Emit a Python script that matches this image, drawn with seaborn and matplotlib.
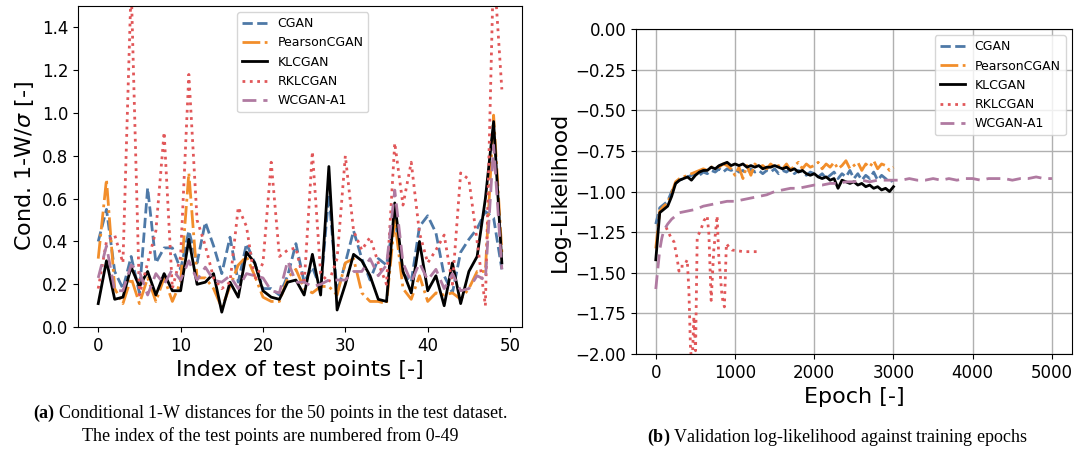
import numpy as np
import pandas as pd
import matplotlib
matplotlib.use("Agg")
import matplotlib.pyplot as plt
import seaborn as sns

# ---------------- data: left panel (conditional 1-W / sigma) ----------------
idx = list(range(50))
cgan_w = [0.40,0.55,0.26,0.18,0.33,0.16,0.65,0.30,0.37,0.37,0.27,0.45,0.30,0.49,0.38,0.25,0.42,0.21,0.39,0.30,
          0.18,0.18,0.15,0.24,0.39,0.21,0.28,0.18,0.62,0.16,0.30,0.45,0.32,0.22,0.32,0.29,0.52,0.25,0.21,0.47,
          0.52,0.44,0.24,0.16,0.35,0.41,0.46,0.54,0.51,0.27]
pearson_w = [0.32,0.69,0.18,0.11,0.23,0.11,0.23,0.12,0.23,0.12,0.21,0.72,0.23,0.23,0.18,0.09,0.19,0.29,0.33,0.24,
             0.14,0.12,0.12,0.23,0.27,0.18,0.16,0.19,0.19,0.15,0.30,0.32,0.16,0.12,0.12,0.11,0.50,0.18,0.13,0.24,
             0.12,0.16,0.15,0.16,0.13,0.18,0.26,0.26,0.99,0.35]
kl_w = [0.11,0.31,0.13,0.14,0.28,0.19,0.26,0.15,0.25,0.17,0.17,0.41,0.20,0.21,0.25,0.07,0.21,0.14,0.35,0.30,
        0.17,0.14,0.13,0.21,0.22,0.15,0.34,0.15,0.75,0.08,0.20,0.34,0.31,0.24,0.13,0.12,0.58,0.26,0.16,0.40,
        0.17,0.24,0.10,0.30,0.11,0.26,0.33,0.60,0.96,0.30]
rkl_w = [0.18,0.40,0.43,0.30,1.60,0.15,0.30,0.45,0.91,0.18,0.33,1.18,0.50,0.38,0.23,0.18,0.21,0.56,0.47,0.22,
         0.30,0.77,0.33,0.36,0.37,0.20,0.82,0.25,0.21,0.32,0.80,0.45,0.36,0.42,0.30,0.20,0.86,0.57,0.77,0.44,
         0.30,0.36,0.43,0.20,0.72,0.69,0.40,0.10,1.70,1.11]
wcgan_w = [0.23,0.38,0.17,0.17,0.29,0.26,0.15,0.25,0.20,0.27,0.22,0.31,0.22,0.28,0.22,0.21,0.24,0.18,0.25,0.24,
           0.23,0.17,0.16,0.31,0.21,0.21,0.19,0.20,0.22,0.22,0.22,0.26,0.26,0.32,0.24,0.29,0.64,0.30,0.21,0.30,
           0.22,0.27,0.18,0.25,0.17,0.18,0.24,0.22,0.85,0.27]

# ---------------- data: right panel (validation log-likelihood) ----------------
ep = list(range(0, 3001, 50))
cgan_ll = [-1.20,-1.10,-1.08,-1.06,-1.00,-0.95,-0.93,-0.92,-0.91,-0.90,-0.89,-0.90,-0.88,-0.89,-0.87,-0.88,
           -0.86,-0.88,-0.86,-0.87,-0.86,-0.88,-0.87,-0.89,-0.86,-0.88,-0.87,-0.89,-0.87,-0.88,-0.86,-0.89,
           -0.87,-0.88,-0.86,-0.89,-0.87,-0.88,-0.90,-0.88,-0.89,-0.91,-0.89,-0.92,-0.90,-0.88,-0.92,-0.89,
           -0.91,-0.87,-0.92,-0.89,-0.93,-0.90,-0.92,-0.88,-0.93,-0.90,-0.92,-0.94,-0.93]
pearson_ll = [-1.35,-1.12,-1.09,-1.07,-1.01,-0.94,-0.92,-0.91,-0.90,-0.89,-0.88,-0.87,-0.86,-0.87,-0.85,-0.84,
              -0.85,-0.83,-0.84,-0.86,-0.90,-0.85,-0.92,-0.84,-0.90,-0.83,-0.85,-0.84,-0.86,-0.83,-0.85,-0.84,
              -0.86,-0.83,-0.87,-0.84,-0.82,-0.86,-0.83,-0.85,-0.84,-0.82,-0.86,-0.83,-0.85,-0.82,-0.86,-0.84,
              -0.81,-0.86,-0.84,-0.82,-0.87,-0.83,-0.85,-0.81,-0.86,-0.83,-0.84,-0.87,-0.85]
kl_ll = [-1.42,-1.13,-1.11,-1.09,-1.03,-0.95,-0.93,-0.92,-0.91,-0.93,-0.90,-0.88,-0.87,-0.87,-0.85,-0.86,
         -0.84,-0.83,-0.82,-0.84,-0.83,-0.84,-0.83,-0.85,-0.84,-0.85,-0.84,-0.86,-0.85,-0.85,-0.84,-0.85,
         -0.86,-0.85,-0.87,-0.86,-0.88,-0.87,-0.89,-0.90,-0.89,-0.91,-0.92,-0.91,-0.93,-0.92,-0.98,-0.93,
         -0.94,-0.95,-0.94,-0.96,-0.95,-0.97,-0.96,-0.98,-0.97,-0.99,-0.98,-1.00,-0.97]
rkl_ep = [130,188,230,272,293,314,356,397,418,439,460,481,502,523,565,607,649,670,699,732,774,795,837,866,891,920,962,1109,1276]
rkl_ll = [-1.22,-1.28,-1.31,-1.42,-1.49,-1.46,-1.46,-1.42,-1.61,-1.98,-2.05,-1.77,-1.98,-1.28,-1.24,-1.18,
          -1.15,-1.26,-1.67,-1.36,-1.15,-1.40,-1.65,-1.71,-1.32,-1.34,-1.36,-1.37,-1.37]
wc_ep = [0,25,50,75,100,150,200,300,400,500,600,700,800,900,1000,1100,1200,1300,1400,1500,1600,1700,1800,
         1900,2000,2100,2200,2300,2400,2500,2600,2700,2800,2900,3000,3100,3200,3300,3400,3500,3600,3700,
         3800,3900,4000,4100,4200,4300,4400,4500,4600,4700,4800,4900,5000]
wc_ll = [-1.60,-1.48,-1.36,-1.29,-1.24,-1.20,-1.17,-1.13,-1.12,-1.11,-1.09,-1.08,-1.07,-1.06,-1.06,-1.05,
         -1.04,-1.03,-1.02,-1.00,-0.99,-0.98,-0.98,-0.97,-0.96,-0.96,-0.95,-0.95,-0.94,-0.94,-0.93,-0.94,
         -0.93,-0.93,-0.93,-0.93,-0.92,-0.93,-0.93,-0.92,-0.93,-0.92,-0.93,-0.92,-0.92,-0.93,-0.92,-0.92,
         -0.92,-0.93,-0.92,-0.92,-0.91,-0.92,-0.92]

names = ["CGAN", "PearsonCGAN", "KLCGAN", "RKLCGAN", "WCGAN-A1"]
colors = ["#4E79A7", "#F28E2B", "#000000", "#E15759", "#B07AA1"]
styles = ["--", "-.", "-", ":", (0, (5, 2.5))]

plt.rcParams["mathtext.fontset"] = "custom"
plt.rcParams["mathtext.rm"] = "DejaVu Sans"
plt.rcParams["mathtext.it"] = "DejaVu Sans:italic"
plt.rcParams["mathtext.bf"] = "Liberation Serif:bold"

fig = plt.figure(figsize=(10.75, 4.55), dpi=100)
ax1 = fig.add_axes([0.0726, 0.281, 0.413, 0.706])
ax2 = fig.add_axes([0.5916, 0.222, 0.4054, 0.714])

left_series = [cgan_w, pearson_w, kl_w, rkl_w, wcgan_w]
for name, col, ls, vals in zip(names, colors, styles, left_series):
    sns.lineplot(x=idx, y=vals, ax=ax1, color=col, linestyle=ls, linewidth=2, label=name)
ax1.set_ylim(0, 1.5)
ax1.set_yticks([0.0, 0.2, 0.4, 0.6, 0.8, 1.0, 1.2, 1.4])
ax1.set_xticks([0, 10, 20, 30, 40, 50])
ax1.tick_params(labelsize=12)
ax1.set_xlabel("Index of test points [-]", fontsize=16)
ax1.set_ylabel(r"Cond. 1-W/$\sigma$ [-]", fontsize=16)
ax1.legend(loc="upper left", bbox_to_anchor=(0.345, 1.0), fontsize=9, framealpha=0.8)

right_series = [(ep, cgan_ll), (ep, pearson_ll), (ep, kl_ll), (rkl_ep, rkl_ll), (wc_ep, wc_ll)]
for name, col, ls, (xs, ys) in zip(names, colors, styles, right_series):
    sns.lineplot(x=xs, y=ys, ax=ax2, color=col, linestyle=ls, linewidth=2, label=name)
ax2.set_ylim(-2.0, 0.0)
ax2.set_yticks([-2.0, -1.75, -1.5, -1.25, -1.0, -0.75, -0.5, -0.25, 0.0])
ax2.set_xticks([0, 1000, 2000, 3000, 4000, 5000])
ax2.grid(True, color="#b0b0b0", linewidth=1)
ax2.tick_params(labelsize=12)
ax2.set_xlabel("Epoch [-]", fontsize=16)
ax2.set_ylabel("Log-Likelihood", fontsize=16)
ax2.legend(loc="upper right", fontsize=9, framealpha=0.8)

cap_kw = dict(ha="center", va="center", fontsize=13, family="Liberation Serif")
fig.text(0.251, 1 - 413 / 455, r"$\mathbf{(a)}$ Conditional 1-W distances for the 50 points in the test dataset.", **cap_kw)
fig.text(0.251, 1 - 436 / 455, "The index of the test points are numbered from 0-49", **cap_kw)
fig.text(0.779, 1 - 437 / 455, r"$\mathbf{(b)}$ Validation log-likelihood against training epochs", **cap_kw)

fig.savefig("out.png", dpi=100)
